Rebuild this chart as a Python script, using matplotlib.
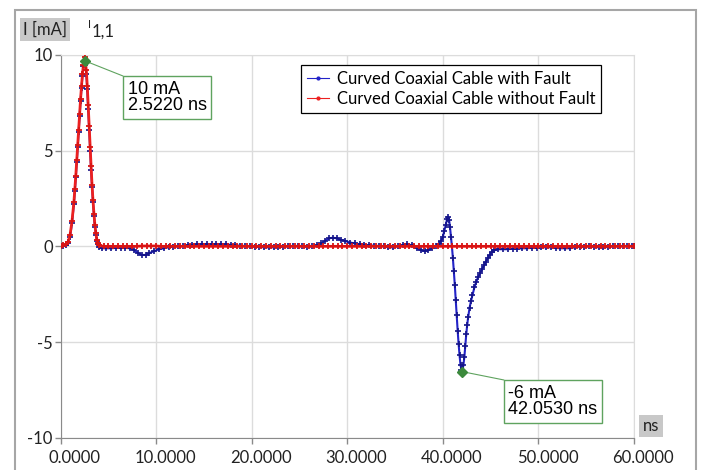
import matplotlib
matplotlib.use('Agg')
import matplotlib.pyplot as plt
from matplotlib.patches import Rectangle
from matplotlib.lines import Line2D
from matplotlib.transforms import ScaledTranslation

plt.rcParams['font.family'] = ['Lato', 'DejaVu Sans']
plt.rcParams['axes.unicode_minus'] = False

# Curved coaxial cable with fault (blue)
t_fault = [0.0, 0.3, 0.6, 0.8, 1.0, 1.2, 1.4, 1.5, 1.6, 1.7, 1.8,
           1.9, 2.0, 2.1, 2.2, 2.3, 2.4, 2.52, 2.6, 2.7, 2.8, 2.9,
           3.0, 3.1, 3.2, 3.3, 3.4, 3.5, 3.6, 3.7, 3.8, 3.9, 4.0,
           4.3, 4.8, 5.3, 5.8, 6.3, 6.8, 7.3, 7.7, 8.1, 8.5,
           8.9, 9.3, 9.8, 10.3, 10.8, 11.3, 11.8, 12.3, 12.8, 13.3,
           13.8, 14.3, 14.8, 15.3, 15.8, 16.3, 16.8, 17.3, 17.8, 18.3,
           18.8, 19.3, 19.8, 20.3, 20.8, 21.3, 21.8, 22.3, 22.8, 23.3,
           23.8, 24.3, 24.8, 25.3, 25.8, 26.3, 26.8, 27.3, 27.7, 28.1,
           28.5, 28.9, 29.3, 29.8, 30.3, 30.8, 31.3, 31.8, 32.3, 32.8,
           33.3, 33.8, 34.3, 34.8, 35.3, 35.8, 36.3, 36.8, 37.3, 37.7,
           38.1, 38.5, 38.9, 39.3, 39.6, 39.85, 40.0, 40.15, 40.3, 40.45,
           40.55, 40.65, 40.75, 40.85, 40.95, 41.05, 41.15, 41.25, 41.35, 41.45,
           41.55, 41.65, 41.75, 41.85, 41.95, 42.05, 42.15, 42.25, 42.35, 42.45,
           42.55, 42.65, 42.8, 42.95, 43.1, 43.3, 43.5, 43.7, 43.9, 44.1,
           44.3, 44.5, 44.7, 44.9, 45.1, 45.4, 45.8, 46.3, 46.8, 47.3,
           47.8, 48.3, 48.8, 49.3, 49.8, 50.3, 50.8, 51.3, 51.8, 52.3,
           52.8, 53.3, 53.8, 54.3, 54.8, 55.3, 55.8, 56.3, 56.8, 57.3,
           57.8, 58.3, 58.8, 59.3, 59.8, 60.0]
i_fault = [0.0, 0.02, 0.08, 0.2, 0.5, 1.2, 2.2, 2.9, 3.6, 4.4, 5.2,
           6.0, 6.8, 7.6, 8.3, 8.9, 9.4, 9.7, 9.5, 9.0, 8.2, 7.2,
           6.1, 5.0, 4.0, 3.1, 2.3, 1.6, 1.0, 0.6, 0.3, 0.1, -0.05,
           -0.1, -0.1, -0.1, -0.08, -0.08, -0.08, -0.1, -0.2, -0.35, -0.45,
           -0.45, -0.35, -0.25, -0.15, -0.1, -0.05, -0.02, 0.0, 0.02, 0.05,
           0.08, 0.1, 0.12, 0.12, 0.12, 0.12, 0.1, 0.1, 0.08, 0.05,
           0.03, 0.02, 0.0, -0.02, -0.03, -0.05, -0.05, -0.05, -0.03, -0.02,
           0.0, 0.02, 0.02, 0.0, -0.02, 0.0, 0.05, 0.15, 0.3, 0.42,
           0.45, 0.42, 0.35, 0.28, 0.2, 0.15, 0.1, 0.08, 0.05, 0.03,
           0.02, 0.0, -0.05, -0.05, 0.0, 0.05, 0.1, 0.05, -0.1, -0.2,
           -0.25, -0.2, -0.1, 0.0, 0.1, 0.3, 0.5, 0.8, 1.1, 1.45,
           1.55, 1.4, 1.0, 0.5, 0.0, -0.6, -1.3, -2.0, -2.8, -3.6,
           -4.4, -5.1, -5.7, -6.2, -6.45, -6.55, -6.2, -5.8, -5.2, -4.6,
           -4.1, -3.7, -3.2, -2.85, -2.55, -2.15, -1.85, -1.6, -1.4, -1.2,
           -1.0, -0.8, -0.6, -0.45, -0.3, -0.2, -0.15, -0.15, -0.15, -0.12,
           -0.12, -0.1, -0.1, -0.08, -0.08, -0.05, -0.05, -0.05, -0.08, -0.1,
           -0.1, -0.1, -0.05, -0.03, -0.02, 0.0, -0.02, -0.05, -0.05, -0.03,
           0.0, 0.0, 0.02, 0.02, 0.02, 0.02]

# Curved coaxial cable without fault (red)
t_ok = [0.0, 0.3, 0.6, 0.8, 1.0, 1.2, 1.4, 1.5, 1.6, 1.7, 1.8,
        1.9, 2.0, 2.1, 2.2, 2.3, 2.4, 2.52, 2.6, 2.7, 2.8, 2.9,
        3.0, 3.1, 3.2, 3.3, 3.4, 3.5, 3.6, 3.7, 3.8, 3.9, 4.0,
        4.5, 5.0, 5.5, 6.0, 6.5, 7.0, 7.5, 8.0, 8.5, 9.0,
        9.5, 10.0, 10.5, 11.0, 11.5, 12.0, 12.5, 13.0, 13.5, 14.0,
        14.5, 15.0, 15.5, 16.0, 16.5, 17.0, 17.5, 18.0, 18.5, 19.0,
        19.5, 20.0, 20.5, 21.0, 21.5, 22.0, 22.5, 23.0, 23.5, 24.0,
        24.5, 25.0, 25.5, 26.0, 26.5, 27.0, 27.5, 28.0, 28.5, 29.0,
        29.5, 30.0, 30.5, 31.0, 31.5, 32.0, 32.5, 33.0, 33.5, 34.0,
        34.5, 35.0, 35.5, 36.0, 36.5, 37.0, 37.5, 38.0, 38.5, 39.0,
        39.5, 40.0, 40.5, 41.0, 41.5, 42.0, 42.5, 43.0, 43.5, 44.0,
        44.5, 45.0, 45.5, 46.0, 46.5, 47.0, 47.5, 48.0, 48.5, 49.0,
        49.5, 50.0, 50.5, 51.0, 51.5, 52.0, 52.5, 53.0, 53.5, 54.0,
        54.5, 55.0, 55.5, 56.0, 56.5, 57.0, 57.5, 58.0, 58.5, 59.0,
        59.5, 60.0]
i_ok = [0.0, 0.05, 0.1, 0.25, 0.6, 1.3, 2.3, 3.0, 3.7, 4.5, 5.3,
        6.1, 6.9, 7.7, 8.4, 9.0, 9.5, 9.9, 9.7, 9.2, 8.4, 7.4,
        6.3, 5.2, 4.2, 3.2, 2.4, 1.7, 1.1, 0.7, 0.35, 0.15, 0.05,
        0.0, 0.0, 0.0, 0.0, 0.0, 0.0, 0.0, 0.0, 0.02, 0.02,
        0.02, 0.02, 0.0, 0.0, 0.0, 0.0, 0.0, 0.0, 0.0, 0.0,
        0.0, 0.0, 0.0, 0.0, 0.0, 0.0, 0.0, 0.0, 0.0, 0.0,
        0.0, 0.0, 0.0, 0.0, 0.0, 0.0, 0.0, 0.0, 0.0, 0.0,
        0.0, 0.0, 0.0, 0.0, 0.0, 0.0, 0.0, 0.0, 0.0, 0.0,
        0.0, 0.0, 0.0, 0.0, 0.0, 0.0, 0.0, 0.0, 0.0, 0.0,
        0.0, 0.0, 0.0, 0.0, 0.0, 0.0, 0.0, 0.0, 0.0, 0.0,
        0.0, 0.0, 0.0, 0.0, 0.0, 0.0, 0.0, 0.0, 0.0, 0.0,
        0.0, 0.0, 0.0, 0.0, 0.0, 0.0, 0.0, 0.0, 0.0, 0.0,
        0.0, 0.0, 0.0, 0.0, 0.0, 0.0, 0.0, 0.0, 0.0, 0.0,
        0.0, 0.0, 0.0, 0.0, 0.0, 0.0, 0.0, 0.0, 0.0, 0.0,
        0.0, 0.0]

x_ticks = [0, 10, 20, 30, 40, 50, 60]
x_labels = ['0.0000', '10.0000', '20.0000', '30.0000', '40.0000', '50.0000', '60.0000']
y_ticks = [-10, -5, 0, 5, 10]

peak_t, peak_i = 2.522, 9.7
low_t, low_i = 42.053, -6.55

blue = '#2323c8'
red = '#ec2020'
green = '#5fa35f'

W, H = 703, 470
fig = plt.figure(figsize=(W / 100, H / 100), dpi=100)
ax = fig.add_axes([60.5 / W, 1 - 437.7 / H, 573.5 / W, 382.7 / H])

ax.plot(t_fault, i_fault, color=blue, lw=1.5, marker='+', ms=4.5, mew=1.2,
        mec='#14148a', zorder=3)
ax.plot(t_ok, i_ok, color=red, lw=2.0, marker='+', ms=4.5, mew=1.3,
        mec='#d81414', zorder=4)

ax.set_xlim(0, 60)
ax.set_ylim(-10, 10)
ax.set_xticks(x_ticks)
ax.set_xticklabels(x_labels)
ax.set_yticks(y_ticks)
ax.grid(color='#dcdcdc', lw=1)
ax.set_axisbelow(True)
for s in ['top', 'right']:
    ax.spines[s].set_color('#dcdcdc')
for s in ['left', 'bottom']:
    ax.spines[s].set_color('#8a8a8a')
ax.tick_params(direction='out', length=4, width=1, color='#8a8a8a',
               labelsize=12, labelcolor='#222222')
ax.tick_params(axis='x', pad=5)
ax.tick_params(axis='y', pad=1.5)
shift = ScaledTranslation(40 / 100, 0, fig.dpi_scale_trans)
for lab in ax.get_xticklabels():
    lab.set_ha('right')
    lab.set_transform(lab.get_transform() + shift)

# legend
handles = [Line2D([], [], color=blue, lw=0.8, marker='.', ms=4),
           Line2D([], [], color=red, lw=0.8, marker='.', ms=4)]
leg = ax.legend(handles, ['Curved Coaxial Cable with Fault',
                          'Curved Coaxial Cable without Fault'],
                loc='upper left', bbox_to_anchor=(301 / W, 1 - 65 / H),
                bbox_transform=fig.transFigure, fontsize=12, fancybox=False,
                edgecolor='black', framealpha=1, borderaxespad=0,
                handlelength=1.3, handletextpad=0.5, borderpad=0.35,
                labelspacing=0.25)
leg.get_frame().set_linewidth(0.9)

# markers for peak and minimum
ax.plot([peak_t, low_t], [peak_i, low_i], ls='none', marker='D', ms=5,
        color='#3c8a3c', zorder=5)
ax.annotate('', xy=(peak_t, peak_i), xytext=(123, H - 76),
            textcoords='figure pixels',
            arrowprops=dict(arrowstyle='-', color=green, lw=0.8,
                            shrinkA=0, shrinkB=0))
ax.annotate('', xy=(low_t, low_i), xytext=(504, H - 380),
            textcoords='figure pixels',
            arrowprops=dict(arrowstyle='-', color=green, lw=0.8,
                            shrinkA=0, shrinkB=0))
box = dict(boxstyle='square,pad=0.25', fc='white', ec=green, lw=1)
fig.text(127.5 / W, 1 - 80.5 / H, '10 mA\n2.5220 ns', ha='left', va='top',
         fontsize=13, family='Liberation Sans', linespacing=1.0, bbox=box)
fig.text(508.5 / W, 1 - 384.5 / H, '-6 mA\n42.0530 ns', ha='left', va='top',
         fontsize=13, family='Liberation Sans', linespacing=1.0, bbox=box)

# axis captions
grey_box = dict(boxstyle='square,pad=0.2', fc='#c8c8c8', ec='none')
fig.text(23 / W, 1 - 29.5 / H, 'I [mA]', ha='left', va='center',
         fontsize=12, color='#222222', bbox=grey_box)
fig.text(88 / W, 1 - 24 / H, 'I', ha='left', va='center', fontsize=8,
         color='#222222')
fig.text(92 / W, 1 - 32 / H, '1,1', ha='left', va='center', fontsize=12,
         color='#222222')
fig.text(651 / W, 1 - 426 / H, 'ns', ha='center', va='center',
         fontsize=12, color='#222222', bbox=grey_box)

# outer frame
fig.add_artist(Rectangle((15 / W, -0.1), 681 / W, 1.1 - 10 / H,
                         transform=fig.transFigure, fill=False,
                         ec='#a6a6a6', lw=1.5))

fig.savefig('out.png', dpi=100)
